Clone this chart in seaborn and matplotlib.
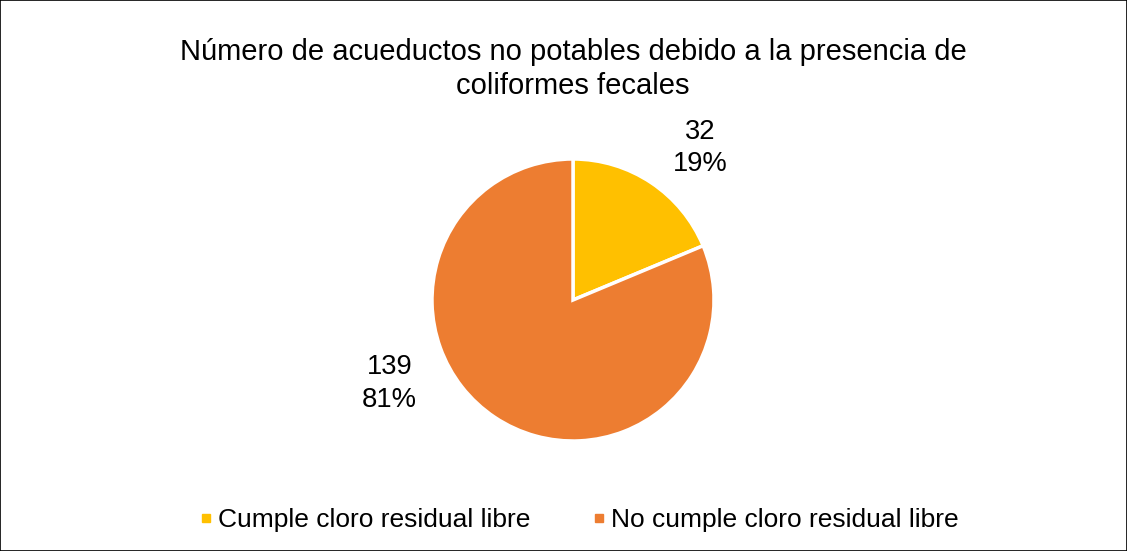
import matplotlib
matplotlib.use("Agg")
import matplotlib.pyplot as plt
from matplotlib.lines import Line2D
from matplotlib.patches import Rectangle
import numpy as np
import seaborn as sns

# Data
categories = ["Cumple cloro residual libre", "No cumple cloro residual libre"]
counts = [32, 139]
colors = ["#FFC000", "#ED7D31"]
title = "Número de acueductos no potables debido a la presencia de\ncoliformes fecales"

sns.set_theme(style="white")
plt.rcParams['font.family'] = ['Liberation Sans', 'DejaVu Sans']

W, H = 1127, 551
fig = plt.figure(figsize=(W / 100, H / 100), dpi=100)

# pie axes: centre (573, 300) px, radius ~141 px
cx, cy, r = 573, 300, 141
ax = fig.add_axes([(cx - r) / W, (H - cy - r) / H, 2 * r / W, 2 * r / H])

total = sum(counts)
wedges, _ = ax.pie(counts, colors=colors, startangle=90, counterclock=False,
                   wedgeprops=dict(edgecolor='white', linewidth=2.5))
ax.set_xlim(-1, 1)
ax.set_ylim(-1, 1)
ax.set_aspect('equal')
ax.axis('off')

# data labels: value and percent, placed outside like Excel
label_angles = [50, 204.5]
label_dist = [1.405, 1.43]
for n, ang, d in zip(counts, label_angles, label_dist):
    pct = n / total * 100
    rad = np.deg2rad(ang)
    ax.text(d * np.cos(rad), d * np.sin(rad), f"{n}\n{pct:.0f}%",
            ha='center', va='center', fontsize=19.7, linespacing=1.32, color='black')

fig.text(cx / W, 1 - 69 / H, title, ha='center', va='center', fontsize=21,
         linespacing=1.3, color='black')

handles = [Line2D([0], [0], marker='s', linestyle='none', markersize=6,
                  markerfacecolor=c, markeredgecolor=c) for c in colors]
fig.legend(handles, categories, loc='center', ncol=2, frameon=False,
           bbox_to_anchor=(580 / W, 1 - 520 / H), fontsize=19, labelcolor='black',
           handlelength=0.4, handletextpad=0.25, columnspacing=2.4)

# chart border
fig.patches.append(Rectangle((0, 0), 1, 1, transform=fig.transFigure,
                             fill=False, edgecolor='black', linewidth=1.2))

fig.savefig("out.png", dpi=100)
